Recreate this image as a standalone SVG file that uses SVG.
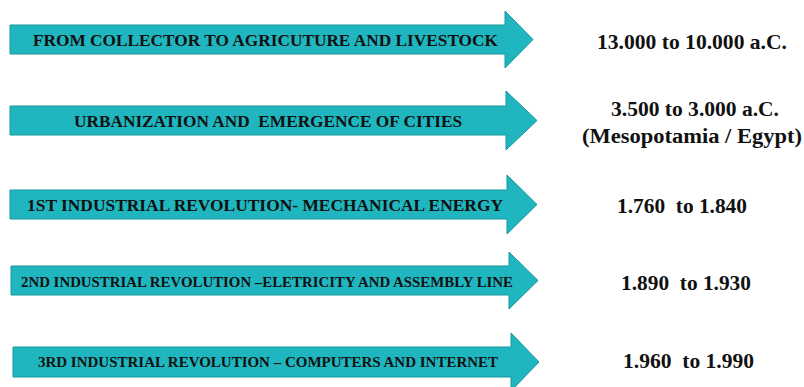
<svg xmlns="http://www.w3.org/2000/svg" width="804" height="387" viewBox="0 0 804 387">
  <style>
    .arrow { fill: #1fb6bf; stroke: #17979d; stroke-width: 1; }
    .label { font-family: "Liberation Serif", "DejaVu Serif", serif; font-weight: bold; fill: #111; }
    .date { font-family: "Liberation Serif", "DejaVu Serif", serif; font-weight: bold; font-size: 20px; fill: #111; }
  </style>
  <rect width="804" height="387" fill="#ffffff"/>

  <!-- timeline arrows, each with its stage label -->
  <g id="stage-1">
    <polygon class="arrow" points="10,25 505,25 505,11 533,39.5 505,68 505,54 10,54"/>
    <text class="label" x="33" y="45.5" font-size="17.5" textLength="465" lengthAdjust="spacingAndGlyphs">FROM COLLECTOR TO AGRICUTURE AND LIVESTOCK</text>
  </g>
  <g id="stage-2">
    <polygon class="arrow" points="10,106 506,106 506,91 537,120.5 506,150 506,135 10,135"/>
    <text class="label" x="74" y="126.5" font-size="17.5" textLength="388" lengthAdjust="spacingAndGlyphs" xml:space="preserve">URBANIZATION AND  EMERGENCE OF CITIES</text>
  </g>
  <g id="stage-3">
    <polygon class="arrow" points="10,190 507,190 507,175 537,204.5 507,234 507,219 10,219"/>
    <text class="label" x="27" y="210.5" font-size="17.5" textLength="476" lengthAdjust="spacingAndGlyphs">1ST INDUSTRIAL REVOLUTION- MECHANICAL ENERGY</text>
  </g>
  <g id="stage-4">
    <polygon class="arrow" points="11,266 509,266 509,252 538,280.5 509,309 509,295 11,295"/>
    <text class="label" x="21" y="286.5" font-size="15" textLength="492" lengthAdjust="spacingAndGlyphs">2ND INDUSTRIAL REVOLUTION –ELETRICITY AND ASSEMBLY LINE</text>
  </g>
  <g id="stage-5">
    <polygon class="arrow" points="13,347 511,347 511,333 539,362 511,391 511,377 13,377"/>
    <text class="label" x="38" y="367" font-size="15" textLength="460" lengthAdjust="spacingAndGlyphs">3RD INDUSTRIAL REVOLUTION – COMPUTERS AND INTERNET</text>
  </g>

  <!-- period for each stage -->
  <g id="dates">
    <text class="date" x="597" y="48.5" textLength="190" lengthAdjust="spacingAndGlyphs">13.000 to 10.000 a.C.</text>
    <text class="date" x="611" y="116" textLength="168" lengthAdjust="spacingAndGlyphs">3.500 to 3.000 a.C.</text>
    <text class="date" x="582" y="143" textLength="220" lengthAdjust="spacingAndGlyphs">(Mesopotamia / Egypt)</text>
    <text class="date" x="617" y="213" textLength="130" lengthAdjust="spacingAndGlyphs" xml:space="preserve">1.760  to 1.840</text>
    <text class="date" x="621" y="290" textLength="130" lengthAdjust="spacingAndGlyphs" xml:space="preserve">1.890  to 1.930</text>
    <text class="date" x="623" y="368" textLength="131" lengthAdjust="spacingAndGlyphs" xml:space="preserve">1.960  to 1.990</text>
  </g>
</svg>
